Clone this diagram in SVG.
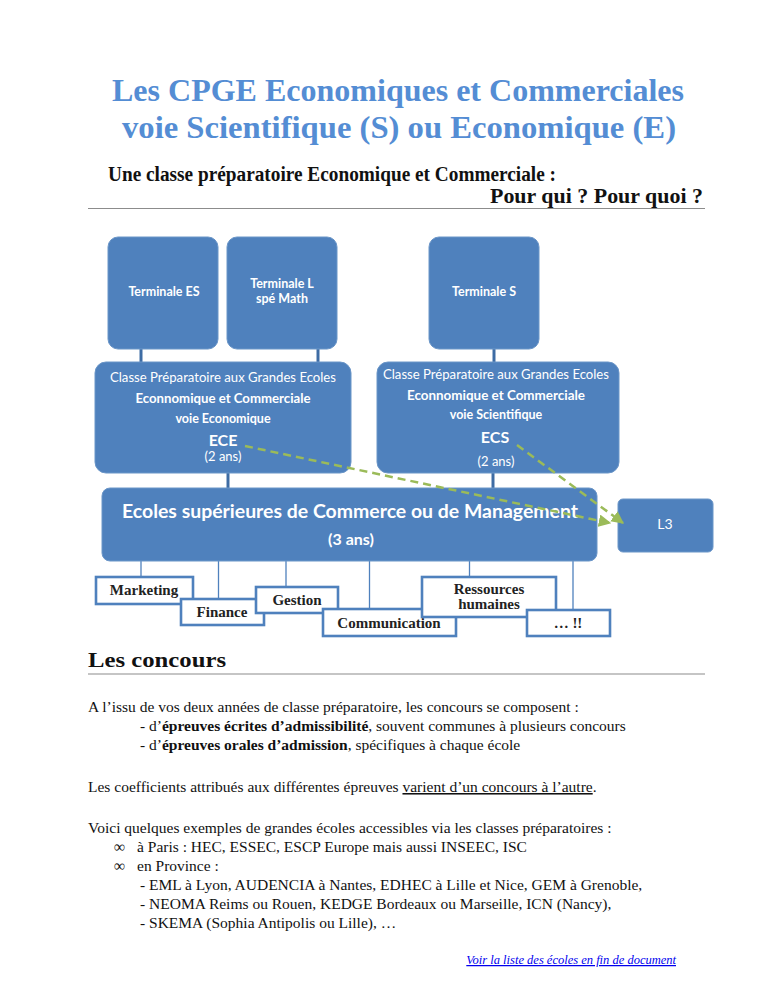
<svg xmlns="http://www.w3.org/2000/svg" width="768" height="994" viewBox="0 0 768 994">
<defs>
<marker id="ga" viewBox="0 0 10 10" refX="9" refY="5" markerWidth="5" markerHeight="5" orient="auto" markerUnits="strokeWidth">
<path d="M0,0 L10,5 L0,10 z" fill="#9BBB59"/>
</marker>
<style>
.bx{fill:#4F81BD;stroke:#6B96C8;stroke-width:1}
.wt{fill:#fff;font-family:Lato,"Open Sans","Liberation Sans",sans-serif;text-anchor:middle}
.b{font-weight:bold}
.sb{fill:#fff;stroke:#4F81BD;stroke-width:2.6}
.st{font-family:"Liberation Serif","Times New Roman",serif;font-weight:bold;font-size:15px;fill:#222;text-anchor:middle}
.cn{stroke:#3E6CA4;stroke-width:3;fill:none}
.tl{stroke:#4F81BD;stroke-width:1.3;fill:none}
.gd{stroke:#9BBB59;stroke-width:2.5;stroke-dasharray:8 5;fill:none}
.hd{font-family:"Liberation Serif",Cambria,serif;font-weight:bold;fill:#111}
.tx{font-family:"Liberation Serif","Times New Roman",serif;font-size:15.5px;fill:#111}
.rule{stroke:#8c8c8c;stroke-width:1.2}
</style>
</defs>
<rect width="768" height="994" fill="#fff"/>

<g id="title">
<text x="398" y="101" font-family="Liberation Serif,Cambria,serif" font-weight="bold" font-size="32" fill="#548DD4" text-anchor="middle" textLength="572" lengthAdjust="spacingAndGlyphs">Les CPGE Economiques et Commerciales</text>
<text x="399" y="138" font-family="Liberation Serif,Cambria,serif" font-weight="bold" font-size="32" fill="#548DD4" text-anchor="middle" textLength="554" lengthAdjust="spacingAndGlyphs">voie Scientifique (S) ou Economique (E)</text>
</g>

<g id="subtitle">
<text class="hd" x="108" y="181" font-size="20.5" textLength="448" lengthAdjust="spacingAndGlyphs">Une classe préparatoire Economique et Commerciale :</text>
<text class="hd" x="703" y="203" font-size="20.5" text-anchor="end" textLength="213" lengthAdjust="spacingAndGlyphs">Pour qui ? Pour quoi ?</text>
<line class="rule" x1="88" y1="208.5" x2="705" y2="208.5"/>
</g>

<g id="connectors">
<line class="cn" x1="141" y1="349" x2="141" y2="363"/>
<line class="cn" x1="318" y1="349" x2="318" y2="363"/>
<line class="cn" x1="494" y1="349" x2="494" y2="363"/>
<line class="cn" x1="228" y1="472" x2="228" y2="489"/>
<line class="cn" x1="493" y1="472" x2="493" y2="489"/>
<line class="tl" x1="141" y1="561" x2="141" y2="577"/>
<line class="tl" x1="218.5" y1="561" x2="218.5" y2="599"/>
<line class="tl" x1="286" y1="561" x2="286" y2="587" stroke="#95B3D7"/>
<line class="tl" x1="369.5" y1="561" x2="369.5" y2="609"/>
<line class="tl" x1="469.5" y1="561" x2="469.5" y2="577"/>
<line class="tl" x1="573" y1="561" x2="573" y2="610"/>
</g>

<g id="term-es">
<rect class="bx" x="108" y="237" width="110" height="112" rx="10"/>
<text class="wt b" x="164" y="296" font-size="12.5">Terminale ES</text>
</g>
<g id="term-l">
<rect class="bx" x="227" y="237" width="110" height="112" rx="10"/>
<text class="wt b" x="282" y="288" font-size="12.5">Terminale L</text>
<text class="wt b" x="282" y="303" font-size="12.5">spé Math</text>
</g>
<g id="term-s">
<rect class="bx" x="429" y="237" width="110" height="112" rx="10"/>
<text class="wt b" x="484" y="296" font-size="12.5">Terminale S</text>
</g>

<g id="ece">
<rect class="bx" x="95" y="362" width="256" height="111" rx="11"/>
<text class="wt" x="223" y="382" font-size="13" textLength="226" lengthAdjust="spacingAndGlyphs">Classe Préparatoire aux Grandes Ecoles</text>
<text class="wt b" x="223" y="403" font-size="12.5" textLength="175" lengthAdjust="spacingAndGlyphs">Econnomique et Commerciale</text>
<text class="wt b" x="223" y="423" font-size="12.5">voie Economique</text>
<text class="wt b" x="223" y="446" font-size="16">ECE</text>
<text class="wt" x="223" y="461" font-size="13">(2 ans)</text>
</g>

<g id="ecs">
<rect class="bx" x="377" y="362" width="242" height="111" rx="11"/>
<text class="wt" x="496" y="379" font-size="13" textLength="226" lengthAdjust="spacingAndGlyphs">Classe Préparatoire aux Grandes Ecoles</text>
<text class="wt b" x="496" y="400" font-size="12.5" textLength="178" lengthAdjust="spacingAndGlyphs">Econnomique et Commerciale</text>
<text class="wt b" x="496" y="419" font-size="12.5">voie Scientifique</text>
<text class="wt b" x="495" y="443" font-size="16">ECS</text>
<text class="wt" x="496" y="466" font-size="13">(2 ans)</text>
</g>

<g id="ecoles">
<rect class="bx" x="102" y="488" width="495" height="73" rx="8"/>
<text class="wt b" x="350" y="518" font-size="18.5" textLength="456" lengthAdjust="spacingAndGlyphs">Ecoles supérieures de Commerce ou de Management</text>
<text class="wt b" x="351" y="545" font-size="16">(3 ans)</text>
</g>

<g id="l3">
<rect class="bx" x="618" y="499" width="95" height="53" rx="5"/>
<text class="wt" x="665" y="529" font-size="14">L3</text>
</g>

<g id="arrows">
<line class="gd" x1="245" y1="446" x2="610" y2="523" marker-end="url(#ga)"/>
<line class="gd" x1="517" y1="445" x2="623" y2="523" marker-end="url(#ga)"/>
</g>

<g id="marketing">
<rect class="sb" x="96" y="577" width="97" height="27"/>
<text class="st" x="144" y="595">Marketing</text>
</g>
<g id="finance">
<rect class="sb" x="181" y="599" width="83" height="26"/>
<text class="st" x="222" y="617">Finance</text>
</g>
<g id="gestion">
<rect class="sb" x="256" y="587" width="82" height="26"/>
<text class="st" x="297" y="605">Gestion</text>
</g>
<g id="communication">
<rect class="sb" x="323" y="609" width="133" height="27"/>
<text class="st" x="389" y="628">Communication</text>
</g>
<g id="rh">
<rect class="sb" x="422" y="577" width="134" height="40"/>
<text class="st" x="489" y="594" font-size="13.5">Ressources</text>
<text class="st" x="489" y="609" font-size="13.5">humaines</text>
</g>
<g id="etc">
<rect class="sb" x="527" y="610" width="83" height="26"/>
<text class="st" x="568" y="628">… !!</text>
</g>

<g id="concours">
<text class="hd" x="88" y="667" font-size="22" textLength="138" lengthAdjust="spacingAndGlyphs">Les concours</text>
<line class="rule" x1="88" y1="674" x2="705" y2="674"/>
<text class="tx" x="88" y="712">A l’issu de vos deux années de classe préparatoire, les concours se composent :</text>
<text class="tx" x="140" y="731">- d’<tspan font-weight="bold">épreuves écrites d’admissibilité</tspan>, souvent communes à plusieurs concours</text>
<text class="tx" x="140" y="750">- d’<tspan font-weight="bold">épreuves orales d’admission</tspan>, spécifiques à chaque école</text>
<text class="tx" x="88" y="792">Les coefficients attribués aux différentes épreuves <tspan text-decoration="underline">varient d’un concours à l’autre</tspan>.</text>
<text class="tx" x="88" y="833">Voici quelques exemples de grandes écoles accessibles via les classes préparatoires :</text>
<text class="tx" x="114" y="852">∞</text>
<text class="tx" x="137" y="852">à Paris : HEC, ESSEC, ESCP Europe mais aussi INSEEC, ISC</text>
<text class="tx" x="114" y="871">∞</text>
<text class="tx" x="137" y="871">en Province :</text>
<text class="tx" x="140" y="890">- EML à Lyon, AUDENCIA à Nantes, EDHEC à Lille et Nice, GEM à Grenoble,</text>
<text class="tx" x="140" y="909">- NEOMA Reims ou Rouen, KEDGE Bordeaux ou Marseille, ICN (Nancy),</text>
<text class="tx" x="140" y="928">- SKEMA (Sophia Antipolis ou Lille), …</text>
<text x="676" y="964" font-family="Liberation Serif,serif" font-style="italic" font-size="12.5" fill="#0000EE" text-anchor="end" text-decoration="underline">Voir la liste des écoles en fin de document</text>
</g>
</svg>
